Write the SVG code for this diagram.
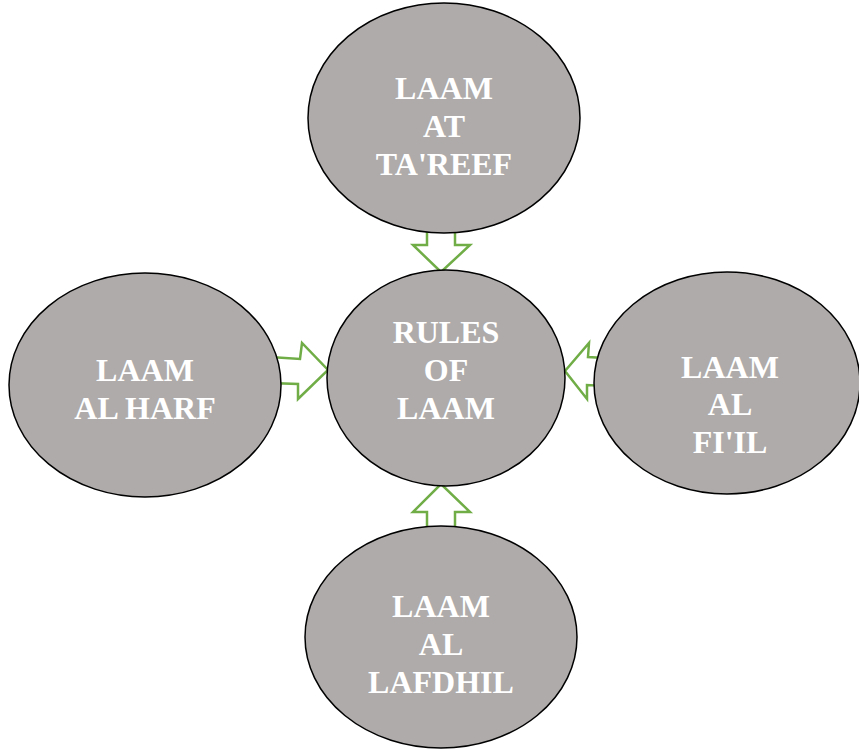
<svg xmlns="http://www.w3.org/2000/svg" width="859" height="750" viewBox="0 0 859 750">
  <style>
    .node ellipse { fill: #aeabaa; stroke: #000; stroke-width: 1.5; }
    .node text { font-family: "Liberation Serif", "Times New Roman", serif; font-weight: bold; font-size: 32px; fill: #fff; text-anchor: middle; }
    .arrow { fill: #fff; stroke: #70ad47; stroke-width: 2.5; stroke-linejoin: miter; }
  </style>
  <rect width="859" height="750" fill="#fff"/>

  <!-- block arrows pointing into the centre -->
  <g id="connectors">
    <polygon class="arrow" points="427,220 455,220 455,245 470,245 441,272 413,245 427,245"/>
    <polygon class="arrow" points="427,535 455,535 455,512 470,512 441,484 413,512 427,512"/>
    <polygon class="arrow" points="270,357 300,359 302,343 328,370 298,399 298,384 270,383"/>
    <polygon class="arrow" points="605,358 588,357 589,343 565,371 587,399 587,385 605,386"/>
  </g>

  <g id="top" class="node">
    <ellipse cx="444" cy="118" rx="136" ry="115"/>
    <text x="444" y="99">LAAM</text>
    <text x="444" y="137">AT</text>
    <text x="444" y="175">TA'REEF</text>
  </g>

  <g id="centre" class="node">
    <ellipse cx="446" cy="378" rx="119" ry="108"/>
    <text x="446" y="343">RULES</text>
    <text x="446" y="381">OF</text>
    <text x="446" y="419">LAAM</text>
  </g>

  <g id="left" class="node">
    <ellipse cx="145" cy="385" rx="136" ry="112"/>
    <text x="145" y="381">LAAM</text>
    <text x="145" y="419">AL HARF</text>
  </g>

  <g id="right" class="node">
    <ellipse cx="727" cy="383" rx="133" ry="111"/>
    <text x="730" y="378">LAAM</text>
    <text x="730" y="415">AL</text>
    <text x="730" y="453">FI'IL</text>
  </g>

  <g id="bottom" class="node">
    <ellipse cx="441" cy="637" rx="136" ry="111"/>
    <text x="441" y="617">LAAM</text>
    <text x="441" y="655">AL</text>
    <text x="441" y="693">LAFDHIL</text>
  </g>
</svg>
